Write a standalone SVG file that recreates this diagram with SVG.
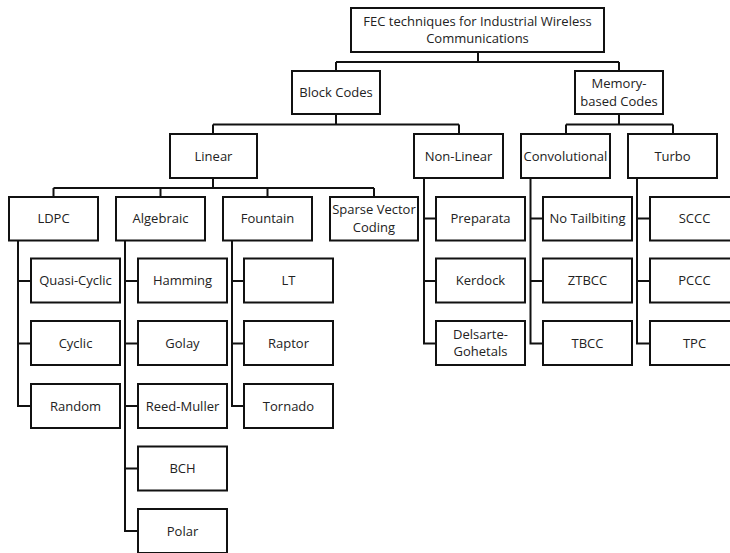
<svg xmlns="http://www.w3.org/2000/svg" width="730" height="553" viewBox="0 0 730 553">
  <style>
    .box rect { fill: #ffffff; stroke: #111111; stroke-width: 2; }
    .box text { font-family: "Open Sans", "Noto Sans", sans-serif; font-size: 13px; fill: #222222; text-anchor: middle; }
    .wires path { fill: none; stroke: #111111; stroke-width: 2; }
  </style>
  <rect width="730" height="553" fill="#ffffff"/>

  <!-- tree connectors -->
  <g class="wires">
    <!-- root to first level -->
    <path d="M478 52V62M336 62H619M336 62V71M619 62V71"/>
    <!-- Block Codes -->
    <path d="M336 114V124.5M213 124.5H459M213 124.5V134M459 124.5V134"/>
    <!-- Memory-based Codes -->
    <path d="M619 114V124.5M566 124.5H673M566 124.5V134M673 124.5V134"/>
    <!-- Linear -->
    <path d="M213 178V188M53.5 188H374M53.5 188V197M160.5 188V197M267.5 188V197M374 188V197"/>
    <!-- LDPC family -->
    <path d="M18 240V406H31M18 281H31M18 343.5H31"/>
    <!-- Algebraic family -->
    <path d="M125 240V531H138M125 281H138M125 343.5H138M125 406H138M125 468.5H138"/>
    <!-- Fountain family -->
    <path d="M232 240V406H244M232 281H244M232 343.5H244"/>
    <!-- Non-Linear family -->
    <path d="M424 178V343.5H436M424 218.5H436M424 281H436"/>
    <!-- Convolutional family -->
    <path d="M530.5 178V343.5H543M530.5 218.5H543M530.5 281H543"/>
    <!-- Turbo family -->
    <path d="M637 178V343.5H650M637 218.5H650M637 281H650"/>
  </g>

  <!-- top levels -->
  <g id="root" class="box"><rect x="351" y="8" width="253" height="44"/><text x="477.5" y="25.6">FEC techniques for Industrial Wireless<tspan x="477.5" dy="17.8">Communications</tspan></text></g>
  <g id="block-codes" class="box"><rect x="292" y="71" width="88" height="43"/><text x="336" y="97">Block Codes</text></g>
  <g id="memory-codes" class="box"><rect x="575" y="71" width="88" height="43"/><text x="619" y="88.1">Memory-<tspan x="619" dy="17.8">based Codes</tspan></text></g>

  <g id="linear" class="box"><rect x="170" y="134" width="87" height="44"/><text x="213.5" y="160.5">Linear</text></g>
  <g id="non-linear" class="box"><rect x="414" y="134" width="89" height="44"/><text x="458.5" y="160.5">Non-Linear</text></g>
  <g id="convolutional" class="box"><rect x="521" y="134" width="89" height="44"/><text x="565.5" y="160.5">Convolutional</text></g>
  <g id="turbo" class="box"><rect x="628" y="134" width="89" height="44"/><text x="672.5" y="160.5">Turbo</text></g>

  <!-- third level -->
  <g id="ldpc" class="box"><rect x="9" y="197" width="89" height="43.5"/><text x="53.5" y="223">LDPC</text></g>
  <g id="algebraic" class="box"><rect x="116" y="197" width="89" height="43.5"/><text x="160.5" y="223">Algebraic</text></g>
  <g id="fountain" class="box"><rect x="223" y="197" width="89" height="43.5"/><text x="267.5" y="223">Fountain</text></g>
  <g id="sparse-vector" class="box"><rect x="330" y="197" width="88" height="43.5"/><text x="374" y="214.4">Sparse Vector<tspan x="374" dy="17.8">Coding</tspan></text></g>
  <g id="preparata" class="box"><rect x="436" y="197" width="89" height="43.5"/><text x="480.5" y="223">Preparata</text></g>
  <g id="no-tailbiting" class="box"><rect x="543" y="197" width="89" height="43.5"/><text x="587.5" y="223">No Tailbiting</text></g>
  <g id="sccc" class="box"><rect x="650" y="197" width="89" height="43.5"/><text x="694.5" y="223">SCCC</text></g>

  <!-- LDPC leaves -->
  <g id="quasi-cyclic" class="box"><rect x="31" y="258.5" width="89" height="44"/><text x="75.5" y="285">Quasi-Cyclic</text></g>
  <g id="cyclic" class="box"><rect x="31" y="321" width="89" height="44"/><text x="75.5" y="347.5">Cyclic</text></g>
  <g id="random" class="box"><rect x="31" y="384" width="89" height="44"/><text x="75.5" y="410.5">Random</text></g>

  <!-- Algebraic leaves -->
  <g id="hamming" class="box"><rect x="138" y="258.5" width="89" height="44"/><text x="182.5" y="285">Hamming</text></g>
  <g id="golay" class="box"><rect x="138" y="321" width="89" height="44"/><text x="182.5" y="347.5">Golay</text></g>
  <g id="reed-muller" class="box"><rect x="138" y="384" width="89" height="44"/><text x="182.5" y="410.5">Reed-Muller</text></g>
  <g id="bch" class="box"><rect x="138" y="446.5" width="89" height="44"/><text x="182.5" y="473">BCH</text></g>
  <g id="polar" class="box"><rect x="138" y="509" width="89" height="44"/><text x="182.5" y="535.5">Polar</text></g>

  <!-- Fountain leaves -->
  <g id="lt" class="box"><rect x="244" y="258.5" width="89" height="44"/><text x="288.5" y="285">LT</text></g>
  <g id="raptor" class="box"><rect x="244" y="321" width="89" height="44"/><text x="288.5" y="347.5">Raptor</text></g>
  <g id="tornado" class="box"><rect x="244" y="384" width="89" height="44"/><text x="288.5" y="410.5">Tornado</text></g>

  <!-- Non-Linear leaves -->
  <g id="kerdock" class="box"><rect x="436" y="258.5" width="89" height="44"/><text x="480.5" y="285">Kerdock</text></g>
  <g id="delsarte-goethals" class="box"><rect x="436" y="321" width="89" height="44"/><text x="480.5" y="338.6">Delsarte-<tspan x="480.5" dy="17.8">Gohetals</tspan></text></g>

  <!-- Convolutional leaves -->
  <g id="ztbcc" class="box"><rect x="543" y="258.5" width="89" height="44"/><text x="587.5" y="285">ZTBCC</text></g>
  <g id="tbcc" class="box"><rect x="543" y="321" width="89" height="44"/><text x="587.5" y="347.5">TBCC</text></g>

  <!-- Turbo leaves -->
  <g id="pccc" class="box"><rect x="650" y="258.5" width="89" height="44"/><text x="694.5" y="285">PCCC</text></g>
  <g id="tpc" class="box"><rect x="650" y="321" width="89" height="44"/><text x="694.5" y="347.5">TPC</text></g>
</svg>
